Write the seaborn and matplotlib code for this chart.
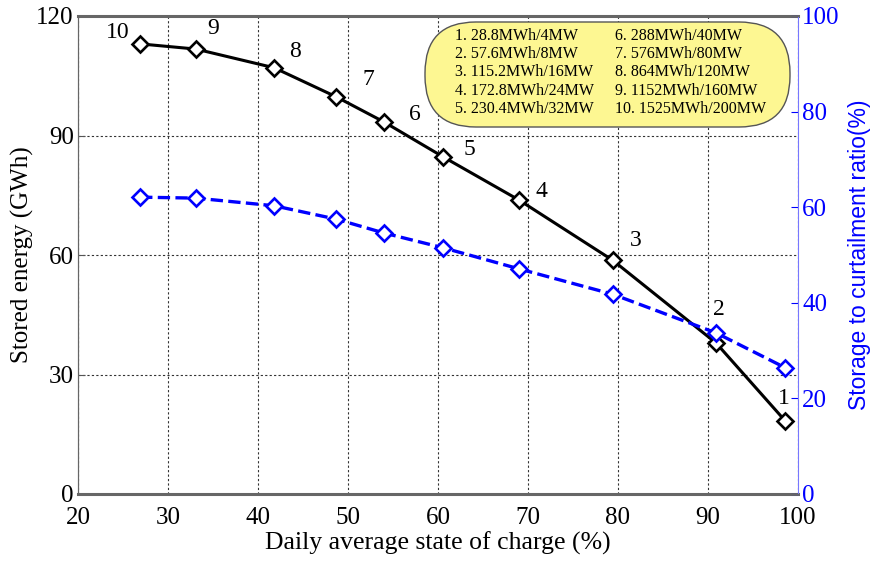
import pandas as pd
import numpy as np
import matplotlib.pyplot as plt
from matplotlib.patches import FancyBboxPatch
import seaborn as sns

# data
soc = [26.9, 33.1, 41.8, 48.7, 54.0, 60.6, 69.0, 79.4, 90.9, 98.6]
stored = [113.0, 111.7, 107.0, 99.7, 93.4, 84.6, 73.8, 58.7, 37.9, 18.3]
ratio = [62.1, 61.9, 60.3, 57.5, 54.6, 51.5, 47.1, 41.8, 33.7, 26.4]
case_ids = ['10', '9', '8', '7', '6', '5', '4', '3', '2', '1']
cases = ['1. 28.8MWh/4MW', '2. 57.6MWh/8MW', '3. 115.2MWh/16MW',
         '4. 172.8MWh/24MW', '5. 230.4MWh/32MW', '6. 288MWh/40MW',
         '7. 576MWh/80MW', '8. 864MWh/120MW', '9. 1152MWh/160MW',
         '10. 1525MWh/200MW']

df = pd.DataFrame({'soc': soc, 'stored': stored, 'ratio': ratio})

sns.set_style('white')
plt.rcParams['font.family'] = ['Liberation Serif', 'DejaVu Serif']
plt.rcParams['text.color'] = 'black'
plt.rcParams['axes.labelcolor'] = 'black'

W, H = 877, 561
fig = plt.figure(figsize=(W / 100, H / 100), dpi=100)
ax = fig.add_axes([78 / W, 1 - 494 / H, 720 / W, 478 / H])
ax2 = ax.twinx()

sns.lineplot(data=df, x='soc', y='stored', ax=ax, color='black', lw=2.2,
             marker='D', markersize=8.5, markerfacecolor='white',
             markeredgecolor='black', markeredgewidth=1.9, zorder=3)
sns.lineplot(data=df, x='soc', y='ratio', ax=ax2, color='blue', lw=2.4,
             linestyle='--', marker='D', markersize=8.5, markerfacecolor='white',
             markeredgecolor='blue', markeredgewidth=1.9, zorder=3)

# point numbers (pixel offsets from each marker)
offsets = [(-22, 11), (17, 21), (21, 16), (32, 17), (31, 7),
           (26, 8), (22, 9), (23, 20), (3, 34), (-2, 23)]
for x, y, lab, (dx, dy) in zip(soc, stored, case_ids, offsets):
    ax.annotate(lab, (x, y), xytext=(dx, dy), textcoords='offset pixels',
                fontsize=17, ha='center', va='center', color='black')

ax.set_xlim(20, 100)
ax.set_ylim(0, 120)
ax2.set_ylim(0, 100)
ax.set_xticks(np.arange(20, 101, 10))
ax.set_yticks(np.arange(0, 121, 30))
ax2.set_yticks(np.arange(0, 101, 20))

ax.grid(True, linestyle=(0, (2, 2)), color='#333333', lw=0.8)
ax.tick_params(axis='x', labelsize=18, direction='in', length=5, colors='#555555',
               labelcolor='black', pad=9)
ax.tick_params(axis='y', labelsize=18, direction='in', length=5, colors='#555555',
               labelcolor='black', pad=3)
ax2.tick_params(axis='y', labelsize=18, direction='in', length=5, colors='blue',
                labelcolor='blue', pad=3)

ax.set_xlabel('Daily average state of charge (%)', fontsize=18.5, labelpad=2)
ax.set_ylabel('Stored energy (GWh)', fontsize=18, labelpad=2)
ax2.set_ylabel('Storage to curtailment ratio(%)', fontsize=16.5, color='blue',
               labelpad=6, family=['Liberation Sans', 'DejaVu Sans'])

for s in ['left', 'bottom', 'top']:
    ax.spines[s].set_color('#666666')
    ax2.spines[s].set_color('#666666')
ax.spines['bottom'].set_linewidth(2.2)
ax.spines['top'].set_linewidth(2.2)
ax2.spines['right'].set_color('#7777ff')
ax.spines['right'].set_visible(False)

# case description box (stadium shape)
aspect = W / H
box = FancyBboxPatch((425 / W, 1 - 127 / H), 365 / W, 105 / H,
                     boxstyle='round,pad=0,rounding_size=0.058',
                     mutation_aspect=aspect, transform=fig.transFigure,
                     fc='#fdf792', ec='#555555', lw=1, zorder=4)
fig.patches.append(box)
fig.text(455 / W, 1 - 72.5 / H, '\n'.join(cases[:5]), fontsize=11.5,
         ha='left', va='center', linespacing=1.2, zorder=5)
fig.text(615 / W, 1 - 72.5 / H, '\n'.join(cases[5:]), fontsize=11.5,
         ha='left', va='center', linespacing=1.2, zorder=5)

fig.savefig('out.png', dpi=100)
